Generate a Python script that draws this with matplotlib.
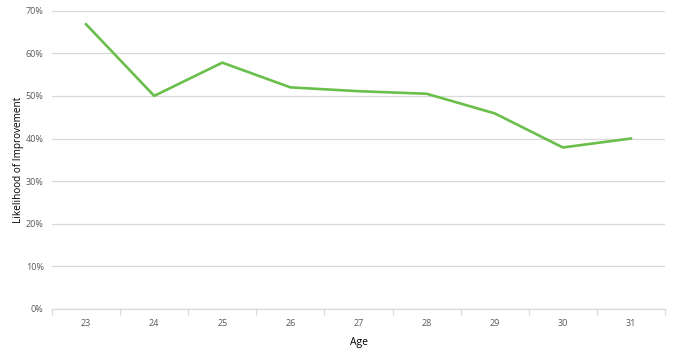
import matplotlib.pyplot as plt

# Datos
edades = ["23", "24", "25", "26", "27", "28", "29", "30", "31"]
probabilidad = [66.8, 50.0, 57.8, 52.0, 51.1, 50.5, 45.9, 37.9, 40.0]
ticks_y = [0, 10, 20, 30, 40, 50, 60, 70]

plt.rcParams["font.family"] = ["Open Sans", "DejaVu Sans"]

fig = plt.figure(figsize=(6.74, 3.55), dpi=100)
ax = fig.add_axes([0.0772, 0.1296, 0.9094, 0.8404])

posiciones = list(range(len(edades)))
ax.plot(posiciones, probabilidad, color="#6abf4b", linewidth=1.9, zorder=3)

# Eje Y con porcentajes
ax.set_ylim(0, 70)
ax.set_yticks(ticks_y)
ax.set_yticklabels([f"{v}%" for v in ticks_y], fontsize=6.5, color="#595959")
ax.grid(axis="y", color="#d9d9d9", linewidth=0.9)
ax.set_axisbelow(True)

# Eje X con las edades, marcas entre categorias
ax.set_xlim(-0.5, len(edades) - 0.5)
ax.set_xticks(posiciones)
ax.set_xticklabels(edades, fontsize=6.5, color="#595959")
ax.set_xticks([p - 0.5 for p in range(len(edades) + 1)], minor=True)
ax.tick_params(axis="x", which="major", length=0, pad=7)
ax.tick_params(axis="x", which="minor", length=4, color="#d9d9d9", width=0.9)
ax.tick_params(axis="y", length=0, pad=6)

for lado in ["top", "right", "left"]:
    ax.spines[lado].set_visible(False)
ax.spines["bottom"].set_color("#d9d9d9")
ax.spines["bottom"].set_linewidth(0.9)

ax.set_xlabel("Age", fontsize=7.5, labelpad=7)
ax.set_ylabel("Likelihood of Improvement", fontsize=7.2)
ax.yaxis.set_label_coords(-0.0457, 0.5)

fig.savefig("out.png", dpi=100)
